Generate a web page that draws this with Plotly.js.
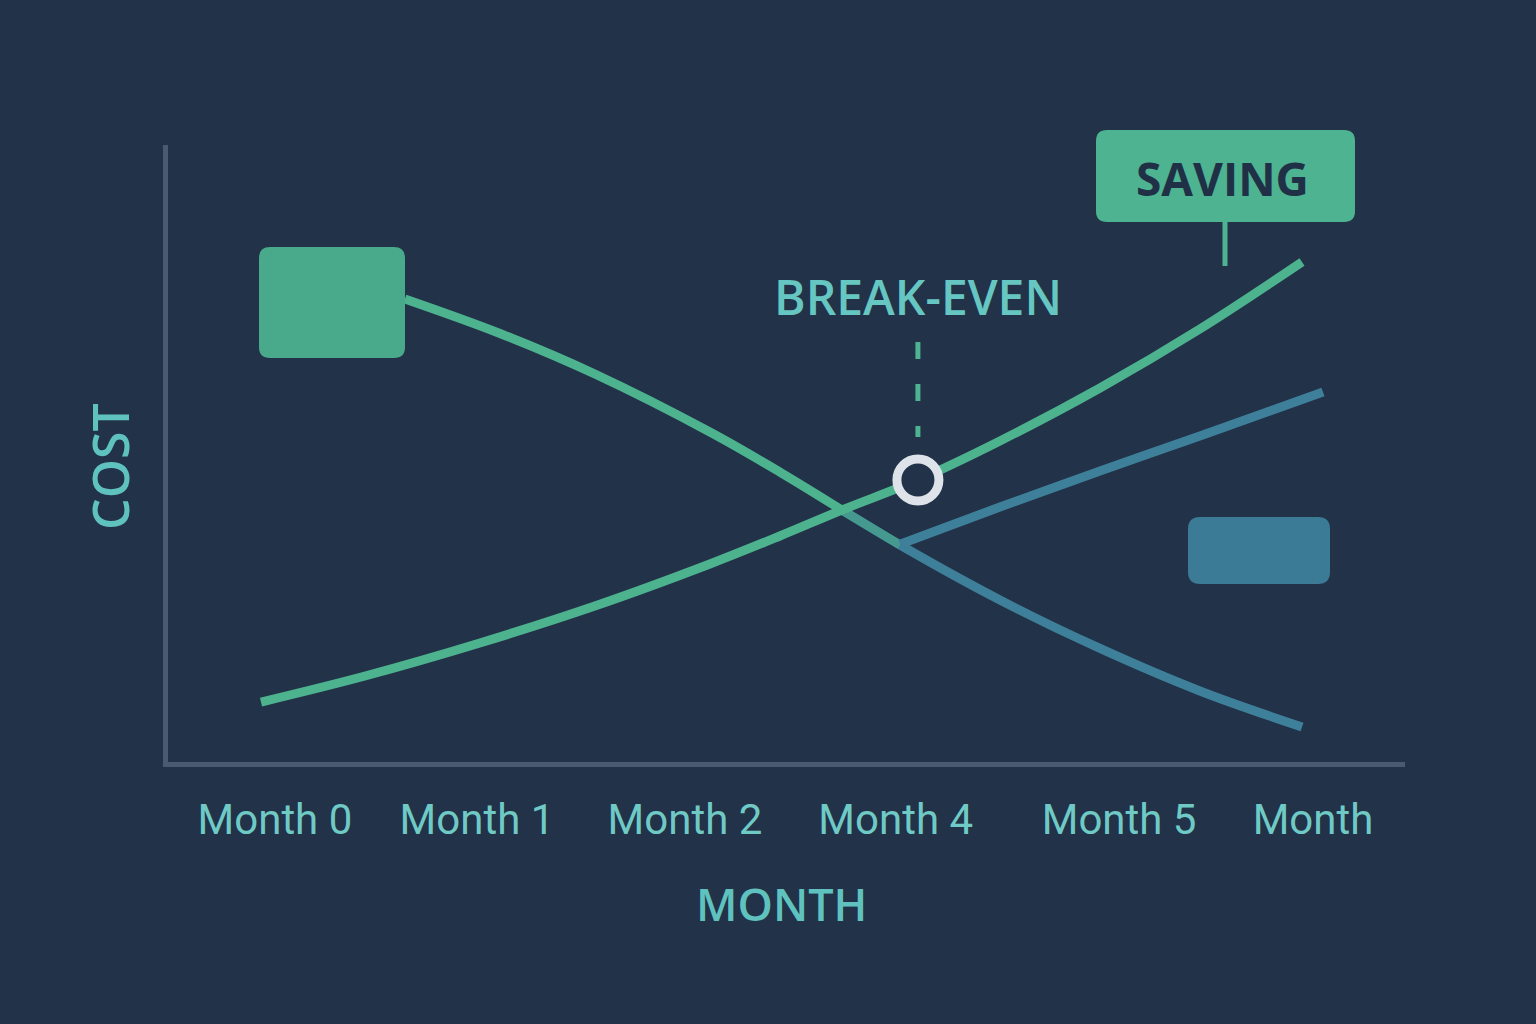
<!DOCTYPE html>
<html>
<head>
<meta charset="utf-8">
<script src="https://cdn.plot.ly/plotly-3.0.1.min.js"></script>
<style>
  html, body { margin: 0; padding: 0; background: #223248; }
  #chart { width: 1536px; height: 1024px; }
</style>
</head>
<body>
<div id="chart"></div>
<script>
// ---- data ----
const monthLabels = ['Month 0', 'Month 1', 'Month 2', 'Month 4', 'Month 5', 'Month'];
const monthTickPos = [0, 0.973, 1.975, 2.99, 4.066, 5.0];

// rising cost curve (green)
const risingX = [-0.067, 0.434, 0.987, 1.541, 2.095, 2.432, 2.731, 3.097, 3.492, 3.974, 4.455, 4.947];
const risingY = [9.72, 13.94, 19.29, 25.28, 32.09, 36.63, 40.84, 45.71, 52.03, 60.62, 70.18, 81.04];

// falling cost curve: green part, then blue part after the crossing
const fallingGreenX = [0.626, 1.084, 1.541, 2.095, 2.432, 2.731];
const fallingGreenY = [75.04, 69.45, 62.88, 53.48, 47.00, 40.84];
const fallingBlueX = [2.731, 3.011, 3.492, 3.974, 4.455, 4.947];
const fallingBlueY = [40.84, 35.17, 26.26, 18.40, 11.51, 5.67];

// blue rising branch
const branchX = [3.011, 3.492, 3.974, 4.455, 5.048];
const branchY = [35.3, 41.33, 47.16, 52.84, 59.97];

// break-even marker
const breakEvenX = [3.097];
const breakEvenY = [45.71];

// ---- styling ----
const BG = '#223248';
const GREEN = '#4db38f';
const BLUE = '#3e7f9a';
const MIX = '#45998f';
const TEAL = '#66c6c2';
const AXIS = '#4a5b70';

// plot area in pixels (for decorative shapes in paper coords)
const M = {l: 168, r: 131, t: 145, b: 262};
const W = 1536, H = 1024;
const PW = W - M.l - M.r, PH = H - M.t - M.b;
const px = v => (v - M.l) / PW;
const py = v => (H - M.b - v) / PH;

function roundRect(x0, y0, x1, y1, r) {
  const X0 = px(x0), X1 = px(x1), Y0 = py(y1), Y1 = py(y0);
  const rx = r / PW, ry = r / PH;
  return `M ${X0 + rx},${Y0} L ${X1 - rx},${Y0} Q ${X1},${Y0} ${X1},${Y0 + ry} ` +
         `L ${X1},${Y1 - ry} Q ${X1},${Y1} ${X1 - rx},${Y1} ` +
         `L ${X0 + rx},${Y1} Q ${X0},${Y1} ${X0},${Y1 - ry} ` +
         `L ${X0},${Y0 + ry} Q ${X0},${Y0} ${X0 + rx},${Y0} Z`;
}

const lineW = 9;
const traces = [
  {x: fallingGreenX, y: fallingGreenY, mode: 'lines', line: {color: GREEN, width: lineW, shape: 'spline', smoothing: 1}, hoverinfo: 'skip'},
  {x: fallingBlueX, y: fallingBlueY, mode: 'lines', line: {color: BLUE, width: lineW, shape: 'spline', smoothing: 1}, hoverinfo: 'skip'},
  {x: fallingBlueX.slice(0, 2), y: fallingBlueY.slice(0, 2), mode: 'lines', line: {color: MIX, width: lineW}, hoverinfo: 'skip'},
  {x: branchX, y: branchY, mode: 'lines', line: {color: BLUE, width: lineW, shape: 'spline', smoothing: 0.6}, hoverinfo: 'skip'},
  {x: risingX, y: risingY, mode: 'lines', line: {color: GREEN, width: lineW, shape: 'spline', smoothing: 1}, hoverinfo: 'skip'},
  {x: breakEvenX, y: breakEvenY, mode: 'markers', marker: {size: 42, color: BG, line: {color: '#dde3e9', width: 9}}, hoverinfo: 'skip'}
];

const shapes = [
  {type: 'path', xref: 'paper', yref: 'paper', path: roundRect(259, 247, 405, 358, 11), fillcolor: '#48aa8b', line: {width: 0}, layer: 'above'},
  {type: 'path', xref: 'paper', yref: 'paper', path: roundRect(1188, 517, 1330, 584, 12), fillcolor: '#3b7b95', line: {width: 0}, layer: 'above'},
  {type: 'path', xref: 'paper', yref: 'paper', path: roundRect(1096, 130, 1355, 222, 11), fillcolor: '#4db391', line: {width: 0}, layer: 'above'},
  {type: 'line', xref: 'paper', yref: 'paper', x0: px(1225), x1: px(1225), y0: py(221), y1: py(266), line: {color: '#4db391', width: 5}},
  {type: 'line', xref: 'x', yref: 'paper', x0: breakEvenX[0], x1: breakEvenX[0], y0: py(342), y1: py(437), line: {color: '#4db391', width: 5, dash: '17px,25px'}}
];

const annotations = [
  {text: 'BREAK-EVEN', xref: 'x', yref: 'paper', x: breakEvenX[0], y: py(296), showarrow: false,
   font: {family: '"Open Sans", sans-serif', size: 48, color: TEAL, weight: 600}, xanchor: 'center', yanchor: 'middle'},
  {text: 'SAVING', xref: 'paper', yref: 'paper', x: px(1222), y: py(178), showarrow: false,
   font: {family: '"Open Sans", sans-serif', size: 46, color: '#203046', weight: 700}, xanchor: 'center', yanchor: 'middle'},
  {text: 'COST', xref: 'paper', yref: 'paper', x: px(110), y: py(467), textangle: -90, showarrow: false,
   font: {family: '"Open Sans", sans-serif', size: 50, color: '#5fc2bf', weight: 600}, xanchor: 'center', yanchor: 'middle'},
  {text: 'MONTH', xref: 'paper', yref: 'paper', x: px(781), y: py(903), showarrow: false,
   font: {family: '"Open Sans", sans-serif', size: 45, color: '#5fc2bf', weight: 600}, xanchor: 'center', yanchor: 'middle'}
];

const layout = {
  width: W, height: H,
  paper_bgcolor: BG, plot_bgcolor: BG,
  margin: M,
  showlegend: false,
  xaxis: {
    range: [-0.515, 5.443], tickvals: monthTickPos, ticktext: monthLabels,
    showgrid: false, zeroline: false, showline: true, linecolor: AXIS, linewidth: 5,
    ticks: '', ticklabelstandoff: 17,
    tickfont: {family: 'Roboto, sans-serif', size: 42, color: '#6fcac6'}
  },
  yaxis: {
    range: [0, 100], showgrid: false, zeroline: false, showline: true, linecolor: AXIS, linewidth: 5,
    showticklabels: false, ticks: ''
  },
  shapes: shapes,
  annotations: annotations
};

Plotly.newPlot('chart', traces, layout, {staticPlot: true, displayModeBar: false});
</script>
</body>
</html>
